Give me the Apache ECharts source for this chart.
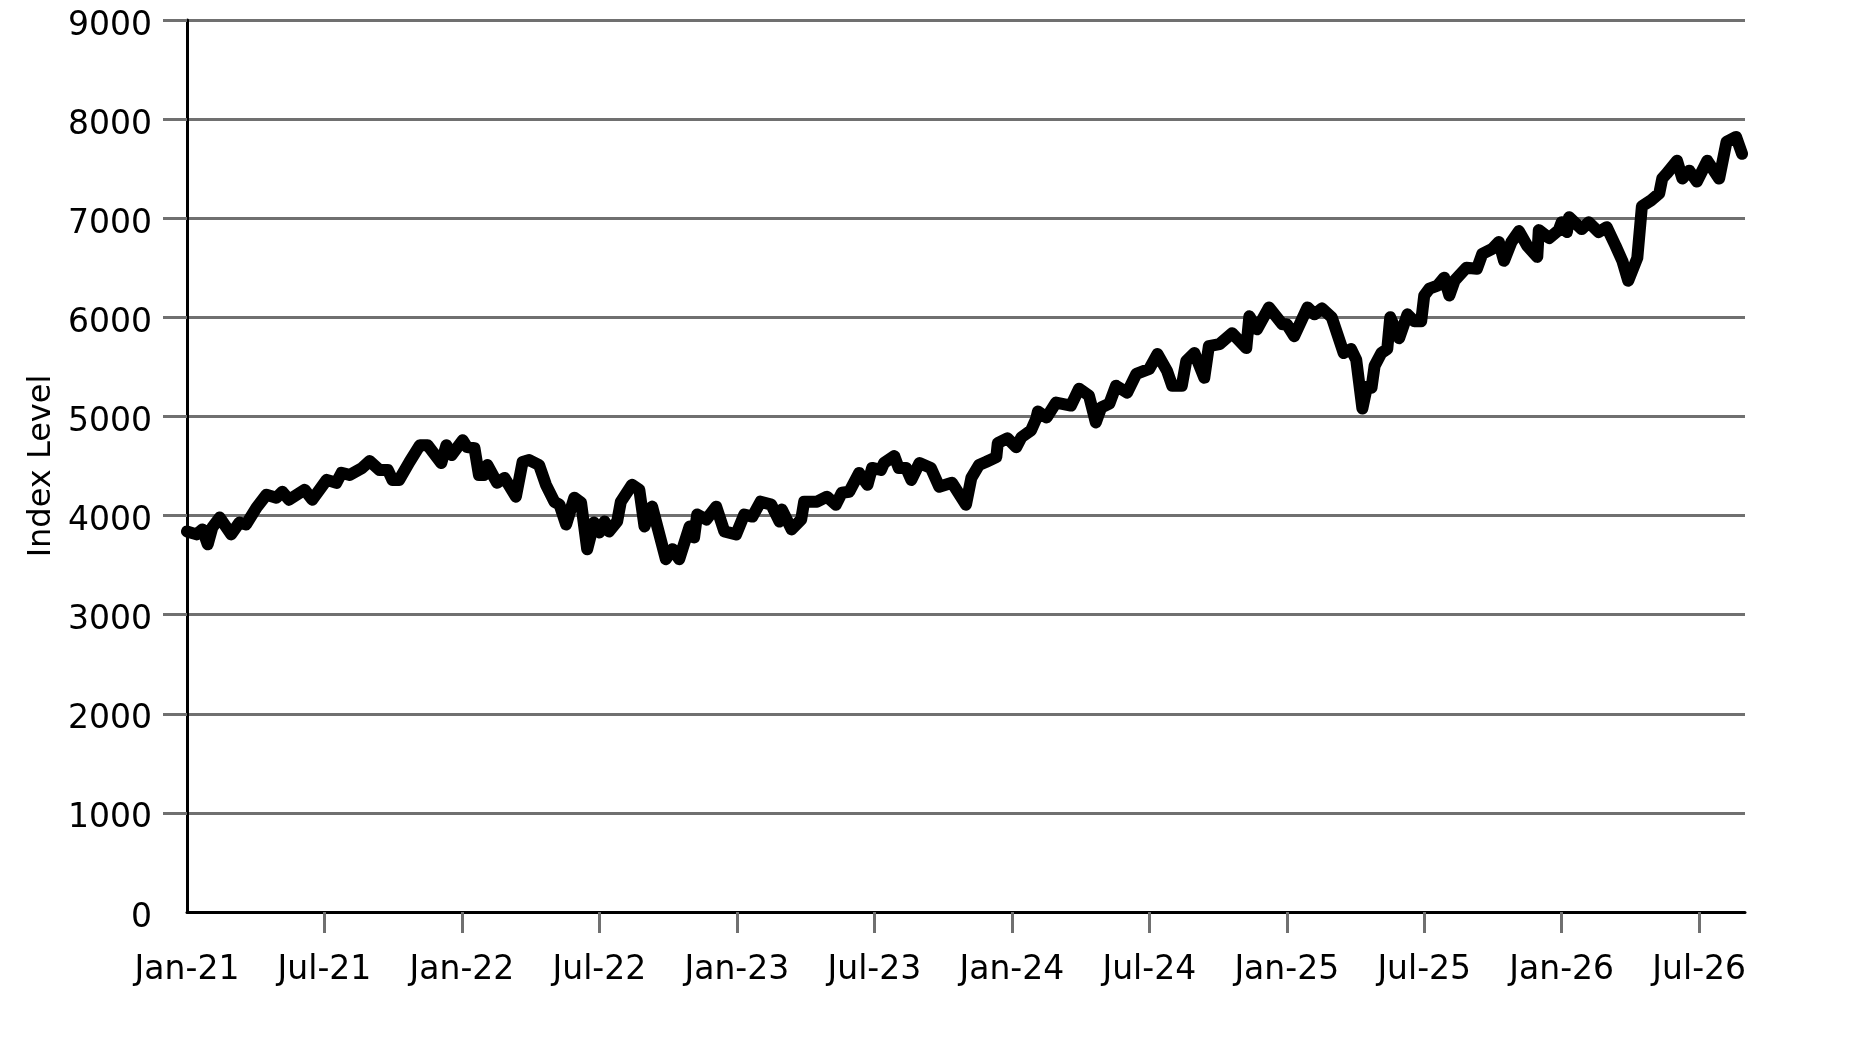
<!DOCTYPE html>
<html>
<head>
<meta charset="utf-8">
<title>Index Level</title>
<script src="https://cdn.jsdelivr.net/npm/echarts@6/dist/echarts.min.js"></script>
<style>
  html, body { margin: 0; padding: 0; background: #fff; }
  #chart { width: 1875px; height: 1042px; }
</style>
</head>
<body>
<div id="chart"></div>
<script>
// weekly-ish closes
var dates = [
  '2021-01-01','2021-01-14','2021-01-22','2021-01-29','2021-02-04','2021-02-13','2021-02-27','2021-03-10','2021-03-19','2021-04-02',
  '2021-04-15','2021-04-28','2021-05-06','2021-05-15','2021-06-05','2021-06-15','2021-07-04','2021-07-17','2021-07-24','2021-08-04',
  '2021-08-21','2021-08-31','2021-09-13','2021-09-24','2021-09-30','2021-10-09','2021-10-23','2021-11-06','2021-11-16','2021-12-04',
  '2021-12-11','2021-12-18','2022-01-02','2022-01-08','2022-01-18','2022-01-24','2022-01-31','2022-02-04','2022-02-16','2022-02-25',
  '2022-03-12','2022-03-21','2022-03-30','2022-04-12','2022-04-21','2022-05-02','2022-05-09','2022-05-18','2022-05-29','2022-06-07',
  '2022-06-15','2022-06-24','2022-07-01','2022-07-08','2022-07-14','2022-07-25','2022-07-30','2022-08-14','2022-08-24','2022-08-31',
  '2022-09-10','2022-09-28','2022-10-07','2022-10-16','2022-10-30','2022-11-05','2022-11-09','2022-11-21','2022-12-04','2022-12-15',
  '2022-12-31','2023-01-11','2023-01-22','2023-02-02','2023-02-15','2023-02-25','2023-02-28','2023-03-13','2023-03-26','2023-03-30',
  '2023-04-16','2023-04-29','2023-05-11','2023-05-19','2023-05-29','2023-06-11','2023-06-22','2023-06-28','2023-07-10','2023-07-14',
  '2023-07-28','2023-08-03','2023-08-13','2023-08-20','2023-08-31','2023-09-15','2023-09-26','2023-10-13','2023-11-01','2023-11-08',
  '2023-11-18','2023-11-27','2023-12-11','2023-12-13','2023-12-26','2024-01-07','2024-01-14','2024-01-27','2024-02-03','2024-02-05',
  '2024-02-16','2024-02-28','2024-03-19','2024-03-30','2024-04-12','2024-04-21','2024-04-28','2024-05-09','2024-05-18','2024-06-02',
  '2024-06-14','2024-07-01','2024-07-12','2024-07-25','2024-08-01','2024-08-14','2024-08-20','2024-08-31','2024-09-13','2024-09-19',
  '2024-10-03','2024-10-20','2024-11-08','2024-11-12','2024-11-22','2024-12-08','2024-12-26','2025-01-01','2025-01-11','2025-01-29',
  '2025-02-07','2025-02-16','2025-02-28','2025-03-16','2025-03-26','2025-04-02','2025-04-10','2025-04-16','2025-04-22','2025-04-26',
  '2025-05-05','2025-05-13','2025-05-17','2025-05-29','2025-06-09','2025-06-18','2025-06-27','2025-07-01','2025-07-08','2025-07-19',
  '2025-07-28','2025-08-04','2025-08-11','2025-08-27','2025-09-10','2025-09-17','2025-09-30','2025-10-09','2025-10-16','2025-10-26',
  '2025-11-05','2025-11-16','2025-11-29','2025-12-01','2025-12-15','2025-12-28','2026-01-01','2026-01-08','2026-01-11','2026-01-28',
  '2026-02-06','2026-02-18','2026-02-28','2026-03-12','2026-03-21','2026-03-29','2026-04-10','2026-04-16','2026-04-28','2026-05-09',
  '2026-05-13','2026-05-19','2026-06-02','2026-06-09','2026-06-18','2026-06-28','2026-07-12','2026-07-28','2026-08-07','2026-08-20',
  '2026-08-28'
]
var values = [
  3840, 3810, 3860, 3710, 3880, 3980, 3810, 3930, 3910, 4080,
  4210, 4180, 4240, 4160, 4260, 4160, 4360, 4330, 4430, 4410,
  4480, 4550, 4460, 4460, 4360, 4360, 4540, 4710, 4710, 4530,
  4710, 4610, 4760, 4690, 4680, 4410, 4410, 4510, 4330, 4380,
  4190, 4540, 4560, 4510, 4310, 4140, 4110, 3910, 4180, 4130,
  3660, 3930, 3830, 3940, 3840, 3940, 4140, 4310, 4260, 3890,
  4090, 3560, 3660, 3560, 3890, 3780, 4010, 3960, 4090, 3840,
  3810, 4010, 3990, 4140, 4110, 3940, 4060, 3860, 3960, 4140,
  4140, 4190, 4110, 4230, 4240, 4430, 4310, 4480, 4460, 4530,
  4600, 4480, 4480, 4360, 4530, 4480, 4290, 4330, 4110, 4380,
  4510, 4540, 4590, 4730, 4780, 4690, 4790, 4860, 4980, 5050,
  4990, 5140, 5110, 5280, 5210, 4940, 5090, 5130, 5310, 5240,
  5430, 5480, 5630, 5460, 5310, 5310, 5560, 5640, 5390, 5710,
  5730, 5840, 5690, 6010, 5880, 6100, 5930, 5930, 5810, 6100,
  6030, 6090, 6000, 5640, 5680, 5570, 5080, 5300, 5290, 5510,
  5640, 5680, 6000, 5790, 6030, 5960, 5960, 6220, 6290, 6320,
  6400, 6220, 6370, 6500, 6490, 6640, 6690, 6760, 6570, 6760,
  6870, 6720, 6610, 6880, 6800, 6880, 6960, 6860, 7010, 6890,
  6960, 6860, 6910, 6720, 6570, 6370, 6600, 7120, 7180, 7250,
  7400, 7450, 7580, 7400, 7480, 7370, 7580, 7400, 7770, 7820,
  7650
]
var yTicks = [1000, 2000, 3000, 4000, 5000, 6000, 7000, 8000, 9000]
var xTickLabels = ['Jan-21', 'Jul-21', 'Jan-22', 'Jul-22', 'Jan-23', 'Jul-23', 'Jan-24', 'Jul-24', 'Jan-25', 'Jul-25', 'Jan-26', 'Jul-26']

// months since Jan 2021, so half-year ticks fall every 6
var toMonths = function (s) {
  var p = s.split('-').map(Number)
  var dim = new Date(p[0], p[1], 0).getDate()
  return (p[0] - 2021) * 12 + (p[1] - 1) + (p[2] - 1) / dim
}

var labelTicks = xTickLabels.map(function (t, i) { return i * 6 })
var seriesData = dates.map(function (d, i) { return [toMonths(d), values[i]] })

var chart = echarts.init(document.getElementById('chart'))
var font = 'DejaVu Sans'

chart.setOption({
  animation: false,
  backgroundColor: '#fff',
  grid: { left: 187, right: 130, top: 20, bottom: 130 },
  xAxis: {
    type: 'value',
    min: 0,
    max: 68,
    interval: 6,
    axisLine: { show: true, lineStyle: { color: '#000', width: 3 } },
    axisTick: {
      show: true,
      length: 21,
      customValues: labelTicks.slice(1),
      lineStyle: { color: '#707070', width: 3 }
    },
    axisLabel: {
      customValues: labelTicks,
      margin: 42,
      fontFamily: font,
      fontSize: 33,
      color: '#000',
      formatter: function (v) { return xTickLabels[Math.round(v / 6)] || '' }
    },
    splitLine: { show: false }
  },
  yAxis: {
    type: 'value',
    min: 0,
    max: 9000,
    interval: 1000,
    name: 'Index Level',
    nameLocation: 'middle',
    nameGap: 129,
    nameMoveOverlap: false,
    nameRotate: 90,
    nameTextStyle: { fontFamily: font, fontSize: 32, color: '#000' },
    axisLine: { show: true, lineStyle: { color: '#000', width: 3 } },
    axisTick: {
      show: true,
      length: 24,
      customValues: yTicks,
      lineStyle: { color: '#707070', width: 3 }
    },
    axisLabel: {
      margin: 35,
      formatter: function (v) { return '{v|' + v + '}' },
      rich: {
        v: { fontFamily: font, fontSize: 33, color: '#000', padding: [12, 0, 0, 0] }
      }
    },
    splitLine: { show: true, lineStyle: { color: '#707070', width: 3 } }
  },
  series: [{
    name: 'Index Level',
    type: 'line',
    data: seriesData,
    showSymbol: false,
    symbol: 'none',
    lineStyle: { color: '#000', width: 12, join: 'round', cap: 'round' },
    z: 5
  }]
})
</script>
</body>
</html>
